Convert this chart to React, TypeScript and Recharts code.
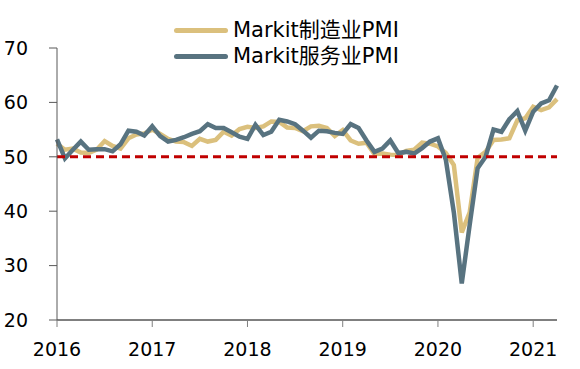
import React from 'react';
import { LineChart, Line, XAxis, YAxis, ReferenceLine, Legend } from 'recharts';

// Monthly, Jan 2016 - Apr 2021
const START_YEAR = 2016;
const manufacturing = [
  52.4, 51.3, 51.5, 50.8, 50.7, 51.3, 52.9, 52.0, 51.5, 53.4, 54.1, 54.3,
  55.0, 54.2, 53.3, 52.8, 52.7, 52.0, 53.3, 52.8, 53.1, 54.6, 53.9, 55.1,
  55.5, 55.3, 55.6, 56.5, 56.4, 55.4, 55.3, 54.7, 55.6, 55.7, 55.3, 53.8,
  54.9, 53.0, 52.4, 52.6, 50.5, 50.6, 50.4, 50.3, 51.1, 51.3, 52.6, 52.4,
  51.9, 50.7, 48.5, 36.1, 39.8, 49.8, 50.9, 53.1, 53.2, 53.4, 56.7, 57.1,
  59.2, 58.6, 59.1, 60.6,
];
const services = [
  53.2, 49.7, 51.3, 52.8, 51.3, 51.4, 51.4, 51.0, 52.3, 54.8, 54.6, 53.9,
  55.6, 53.8, 52.8, 53.1, 53.6, 54.2, 54.7, 56.0, 55.3, 55.3, 54.5, 53.7,
  53.3, 55.9, 54.0, 54.6, 56.8, 56.5, 56.0, 54.8, 53.5, 54.8, 54.7, 54.4,
  54.2, 56.0, 55.3, 53.0, 50.9, 51.5, 53.0, 50.7, 50.9, 50.6, 51.6, 52.8,
  53.4, 49.4, 39.8, 26.7, 37.5, 47.9, 50.0, 55.0, 54.6, 56.9, 58.4, 54.8,
  58.3, 59.8, 60.4, 63.1,
];
const yearTicks = [0, 12, 24, 36, 48, 60];
const yTicks = [20, 30, 40, 50, 60, 70];

const seriesNames = ['Markit制造业PMI', 'Markit服务业PMI'];
const seriesColors = ['#DBC07D', '#587380'];

const data = manufacturing.map((v, i) => ({ t: i, mfg: v, svc: services[i] }));

const tickFont = { fontFamily: 'DejaVu Sans', fontSize: 19, fill: '#000' };

const LegendBox = () => (
  <div style={{ fontFamily: '"DejaVu Sans", "Noto Sans CJK SC"', fontSize: 21, color: '#000' }}>
    {seriesNames.map((name, i) => (
      <div key={name} style={{ display: 'flex', alignItems: 'center', height: 26 }}>
        <div style={{ width: 54, height: 5, borderRadius: 3, background: seriesColors[i], marginRight: 5 }} />
        <span style={{ lineHeight: '26px', whiteSpace: 'nowrap' }}>{name}</span>
      </div>
    ))}
  </div>
);

export default function App() {
  return (
    <div style={{ position: 'absolute', left: 0, top: 0, width: 580, height: 369, background: '#fff' }}>
      <LineChart width={580} height={369} data={data} margin={{ top: 48, right: 23, bottom: 0, left: 0 }}>
        <XAxis
          dataKey="t"
          type="number"
          domain={[0, 63]}
          ticks={yearTicks}
          tickFormatter={(v: number) => String(START_YEAR + v / 12)}
          height={49}
          tickSize={7}
          tickMargin={16}
          tick={tickFont}
          axisLine={{ stroke: '#000' }}
          tickLine={{ stroke: '#7f7f7f' }}
        />
        <YAxis
          type="number"
          domain={[20, 70]}
          ticks={yTicks}
          width={57}
          tickSize={8}
          tickMargin={21}
          tick={tickFont}
          axisLine={{ stroke: '#595959' }}
          tickLine={{ stroke: '#595959' }}
        />
        <Legend
          layout="vertical"
          align="center"
          verticalAlign="middle"
          wrapperStyle={{ left: 174, top: 17, width: 260 }}
          content={() => <LegendBox />}
        />
        <Line
          dataKey="mfg"
          name={seriesNames[0]}
          stroke={seriesColors[0]}
          strokeWidth={4.5}
          dot={false}
          type="linear"
          isAnimationActive={false}
        />
        <Line
          dataKey="svc"
          name={seriesNames[1]}
          stroke={seriesColors[1]}
          strokeWidth={4.5}
          dot={false}
          type="linear"
          isAnimationActive={false}
        />
        <ReferenceLine y={50} stroke="#C00000" strokeWidth={3} strokeDasharray="8 5" />
      </LineChart>
    </div>
  );
}
